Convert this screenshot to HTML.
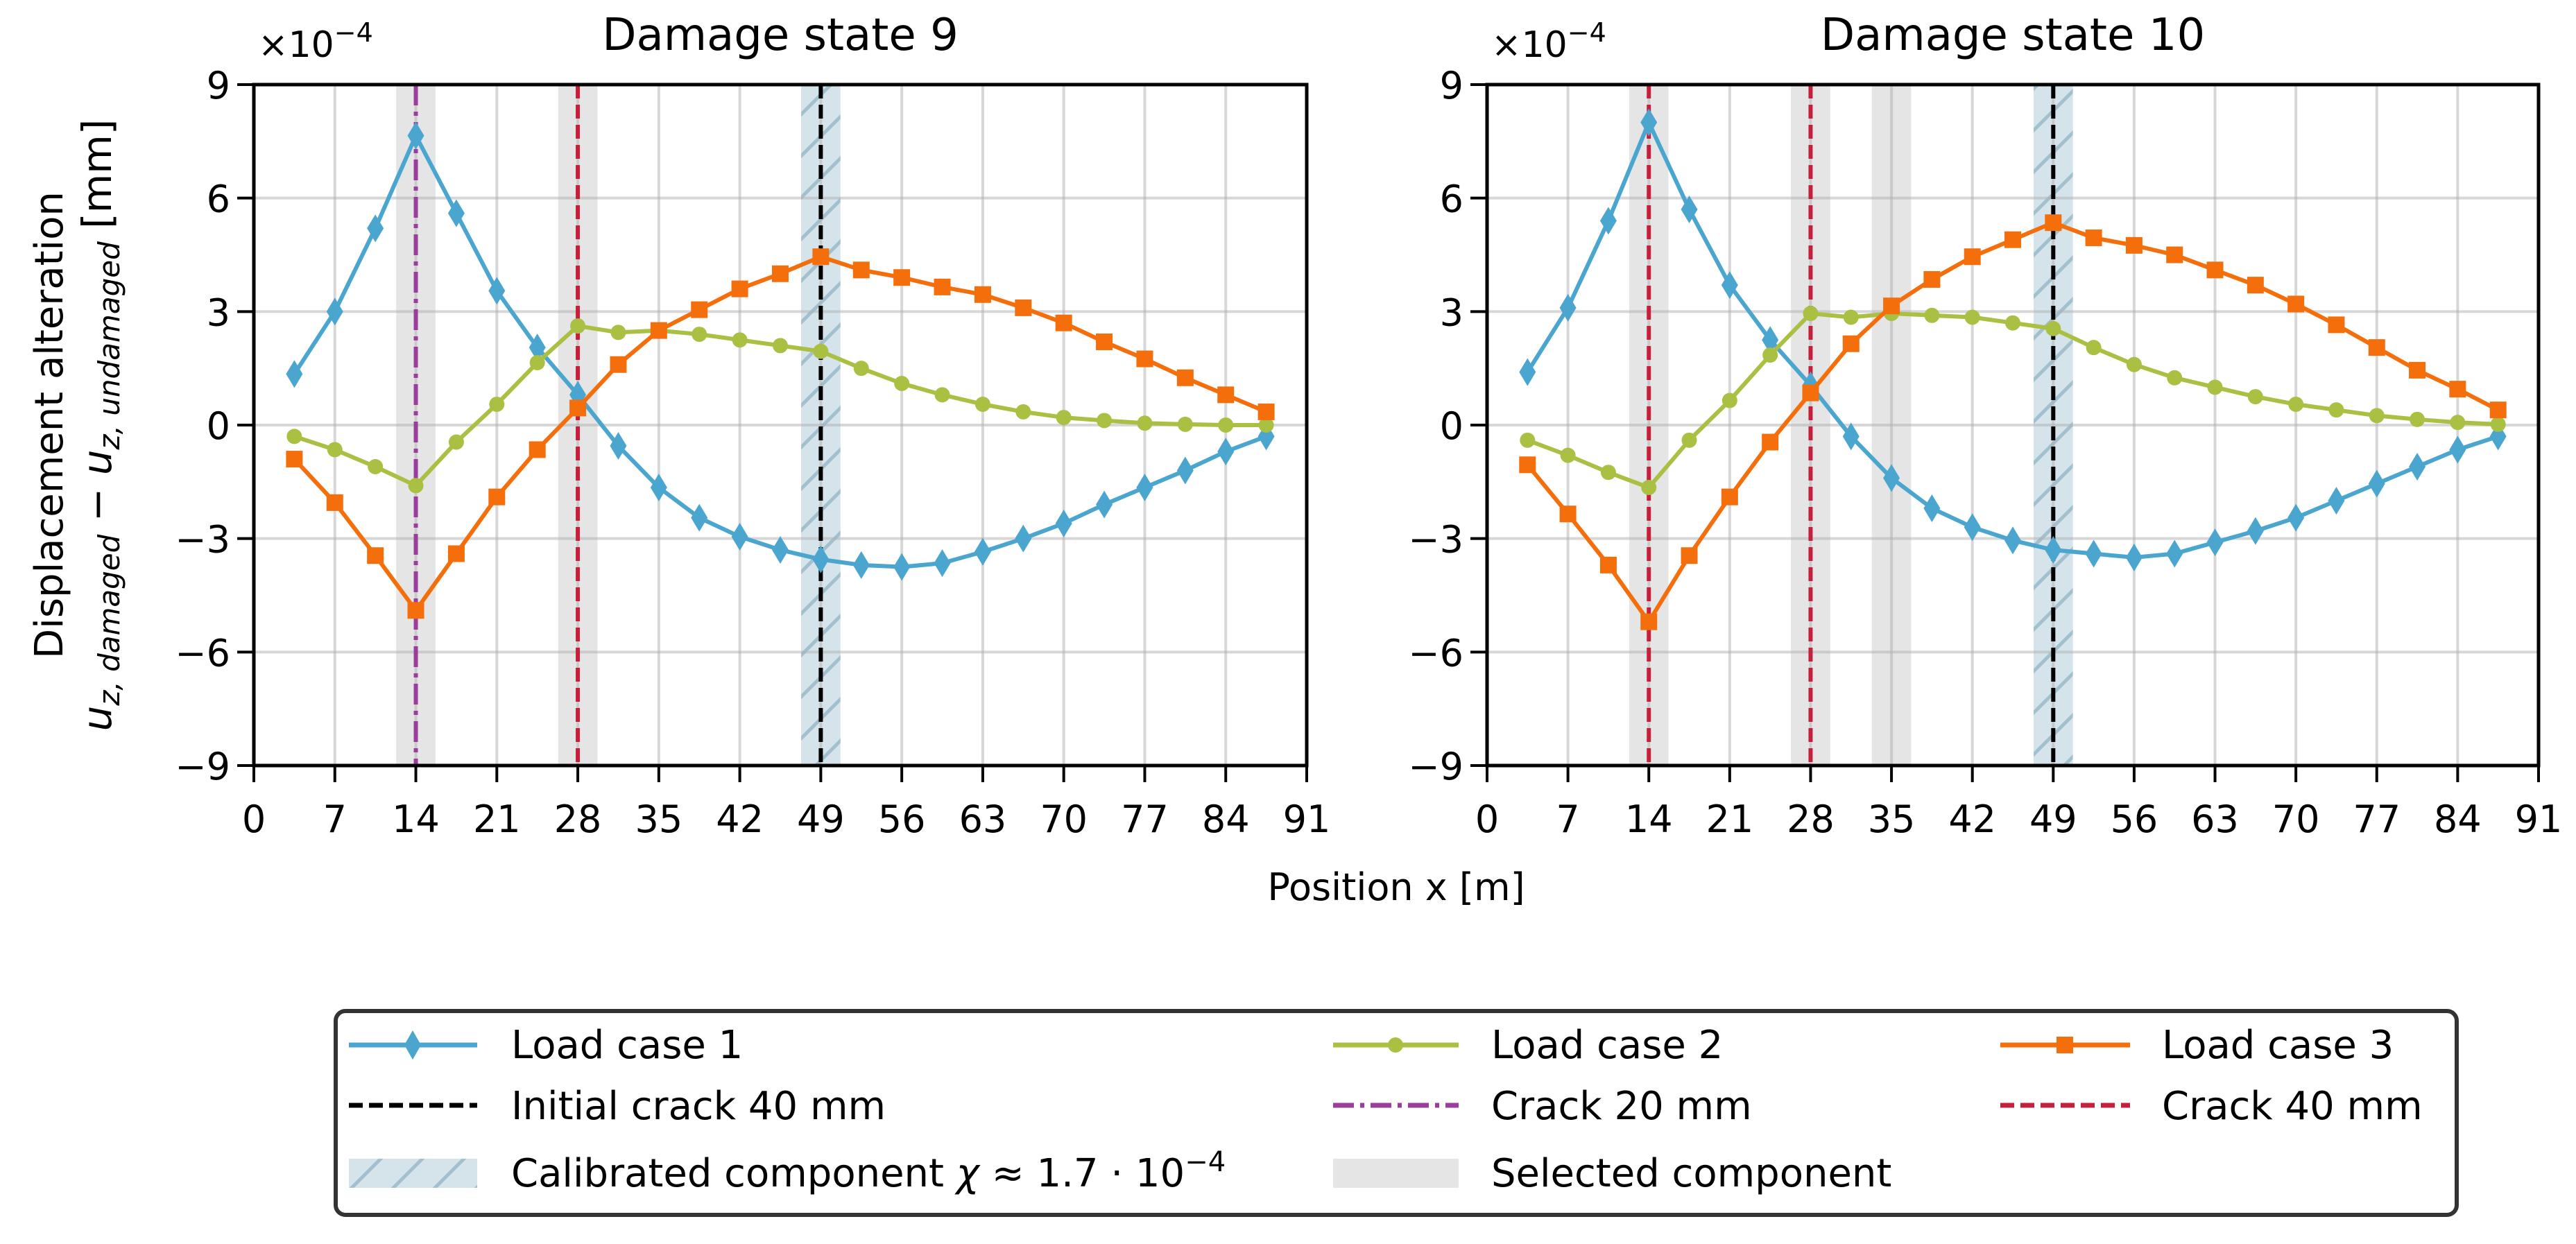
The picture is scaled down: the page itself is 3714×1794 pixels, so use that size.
<!DOCTYPE html>
<html><head><meta charset="utf-8">
<style>
html,body{margin:0;padding:0;background:#fff;}
svg{display:block;font-family:"DejaVu Sans","Liberation Sans",sans-serif;}
</style></head>
<body>
<svg id="fig" width="3714" height="1794" viewBox="0 0 3714 1794" xmlns="http://www.w3.org/2000/svg">
<defs>
<pattern id="hatch" patternUnits="userSpaceOnUse" width="60" height="60">
<rect width="60" height="60" fill="#d5e4ea"/>
<path d="M-15,75 L75,-15 M-45,45 L45,-45 M15,105 L105,15" stroke="#a3c0cf" stroke-width="5"/>
</pattern>
</defs>
<g id="root"></g>
</svg>
<script>
const xPos = [3.5,7,10.5,14,17.5,21,24.5,28,31.5,35,38.5,42,45.5,49,52.5,56,59.5,63,66.5,70,73.5,77,80.5,84,87.5];
const xTicks = [0,7,14,21,28,35,42,49,56,63,70,77,84,91];
const yTicks = [-9,-6,-3,0,3,6,9];
const yTickLabels = ["\u22129","\u22126","\u22123","0","3","6","9"];
const ds9_lc1 = [1.35,3.0,5.2,7.65,5.6,3.55,2.05,0.8,-0.55,-1.65,-2.45,-2.95,-3.3,-3.55,-3.7,-3.75,-3.65,-3.35,-3.0,-2.6,-2.1,-1.65,-1.2,-0.7,-0.3];
const ds9_lc2 = [-0.3,-0.65,-1.1,-1.6,-0.45,0.55,1.65,2.62,2.45,2.5,2.4,2.25,2.1,1.95,1.5,1.1,0.8,0.55,0.35,0.2,0.12,0.05,0.02,0.0,0.0];
const ds9_lc3 = [-0.9,-2.05,-3.45,-4.9,-3.4,-1.9,-0.65,0.45,1.6,2.5,3.05,3.6,4.0,4.45,4.1,3.9,3.65,3.45,3.1,2.7,2.2,1.75,1.25,0.8,0.35];
const ds10_lc1 = [1.4,3.1,5.4,8.0,5.7,3.7,2.25,1.05,-0.3,-1.4,-2.2,-2.7,-3.05,-3.3,-3.4,-3.5,-3.4,-3.1,-2.8,-2.45,-2.0,-1.55,-1.1,-0.65,-0.3];
const ds10_lc2 = [-0.4,-0.8,-1.25,-1.65,-0.4,0.65,1.85,2.95,2.85,2.95,2.9,2.85,2.7,2.55,2.05,1.6,1.25,1.0,0.75,0.55,0.4,0.25,0.15,0.07,0.02];
const ds10_lc3 = [-1.05,-2.35,-3.7,-5.2,-3.45,-1.9,-0.45,0.85,2.15,3.15,3.85,4.45,4.9,5.35,4.95,4.75,4.5,4.1,3.7,3.2,2.65,2.05,1.45,0.95,0.4];
const ds9_selected = [14,28];
const ds10_selected = [14,28,35];
const calibrated = [49];
const ds9_crack20 = [14];
const ds9_crack40 = [28];
const ds10_crack20 = [];
const ds10_crack40 = [14,28];
const initialCrack = [49];
const bandHalf = 1.7;

const NS="http://www.w3.org/2000/svg";
const root=document.getElementById('root');
function mk(tag,attrs,parent){const e=document.createElementNS(NS,tag);for(const k in attrs)e.setAttribute(k,attrs[k]);(parent||root).appendChild(e);return e;}
const C1="#4ba6cf",C2="#a9c043",C3="#f56e0c",RED="#c4203b",PUR="#9a3d9c";

function panel(x0,x1,title,lc1,lc2,lc3,sel,cr20,cr40,name){
  const y0=122,y1=1104;
  const g=mk('g',{});
  
  
  const sx=v=>x0+(v-0)/(91-0)*(x1-x0);
  const sy=v=>y1-(v+9)/18*(y1-y0);
  sel.forEach(v=>{const r=mk('rect',{x:sx(v-bandHalf),y:y0,width:sx(v+bandHalf)-sx(v-bandHalf),height:y1-y0,fill:'#e5e5e5'},g);
    
    });
  calibrated.forEach(v=>{const r=mk('rect',{x:sx(v-bandHalf),y:y0,width:sx(v+bandHalf)-sx(v-bandHalf),height:y1-y0,fill:'url(#hatch)'},g);
    
    });
  xTicks.forEach(v=>{const l=mk('line',{x1:sx(v),x2:sx(v),y1:y0,y2:y1,stroke:'#b0b0b0','stroke-opacity':0.5,'stroke-width':4},g);
    
    });
  yTicks.forEach(v=>{const l=mk('line',{x1:x0,x2:x1,y1:sy(v),y2:sy(v),stroke:'#b0b0b0','stroke-opacity':0.5,'stroke-width':4},g);
    
    });
  initialCrack.forEach(v=>{const l=mk('line',{x1:sx(v),x2:sx(v),y1:y0,y2:y1,stroke:'#000','stroke-width':6,'stroke-dasharray':'20 9'},g);
    
    });
  cr20.forEach(v=>{const l=mk('line',{x1:sx(v),x2:sx(v),y1:y0,y2:y1,stroke:PUR,'stroke-width':6,'stroke-dasharray':'30 9 6 9'},g);
    
    });
  cr40.forEach(v=>{const l=mk('line',{x1:sx(v),x2:sx(v),y1:y0,y2:y1,stroke:RED,'stroke-width':6,'stroke-dasharray':'20 9'},g);
    
    });
  function series(vals,col,marker,nm){
    const pts=vals.map((v,i)=>sx(xPos[i])+','+sy(v)).join(' ');
    const pl=mk('polyline',{points:pts,fill:'none',stroke:col,'stroke-width':6,'stroke-linejoin':'round'},g);
    
    
    vals.forEach((v,i)=>{const cx=sx(xPos[i]),cy=sy(v);let m;
      if(marker==='d')m=mk('polygon',{points:`${cx},${cy-20} ${cx+12},${cy} ${cx},${cy+20} ${cx-12},${cy}`,fill:col},g);
      else if(marker==='o')m=mk('circle',{cx:cx,cy:cy,r:11,fill:col},g);
      else m=mk('rect',{x:cx-12,y:cy-12,width:24,height:24,fill:col},g);
      
      });
  }
  series(lc1,C1,'d','load-case-1');
  series(lc2,C2,'o','load-case-2');
  series(lc3,C3,'s','load-case-3');
  const fr=mk('rect',{x:x0,y:y0,width:x1-x0,height:y1-y0,fill:'none',stroke:'#000','stroke-width':5},g);
  
  
  xTicks.forEach(v=>{const t=mk('line',{x1:sx(v),x2:sx(v),y1:y1,y2:y1+24,stroke:'#000','stroke-width':4},g);
    
    
    const tx=mk('text',{x:sx(v),y:y1+96,'font-size':54,'text-anchor':'middle'},g);tx.textContent=v;
    
    });
  yTicks.forEach((v,i)=>{const t=mk('line',{x1:x0-24,x2:x0,y1:sy(v),y2:sy(v),stroke:'#000','stroke-width':4},g);
    
    
    const tx=mk('text',{x:x0-34,y:sy(v)+20,'font-size':54,'text-anchor':'end'},g);tx.textContent=yTickLabels[i];
    
    });
  const off=mk('text',{x:x0+6,y:82,'font-size':52},g);
  off.innerHTML='\u00d710<tspan dy="-22" font-size="38">\u22124</tspan>';
  
  
  const ti=mk('text',{x:(x0+x1)/2,y:72,'font-size':64,'text-anchor':'middle'},g);ti.textContent=title;
  
  
}
panel(366,1884,'Damage state 9',ds9_lc1,ds9_lc2,ds9_lc3,ds9_selected,ds9_crack20,ds9_crack40,'panel-damage-state-9');
panel(2144,3660,'Damage state 10',ds10_lc1,ds10_lc2,ds10_lc3,ds10_selected,ds10_crack20,ds10_crack40,'panel-damage-state-10');
</script>
<svg style="position:absolute;left:0;top:0" width="3714" height="1794" xmlns="http://www.w3.org/2000/svg" font-family="DejaVu Sans, Liberation Sans, sans-serif">
<g>
<text transform="translate(90,613) rotate(-90)" text-anchor="middle" font-size="56">Displacement alteration</text>
<text transform="translate(160,613) rotate(-90)" text-anchor="middle" font-size="58"><tspan font-style="italic">u</tspan><tspan font-size="42" dy="12" font-style="italic">z, damaged</tspan><tspan dy="-12"> − </tspan><tspan font-style="italic">u</tspan><tspan font-size="42" dy="12" font-style="italic">z, undamaged</tspan><tspan dy="-12"> [mm]</tspan></text>
</g>
<text x="2013" y="1298" text-anchor="middle" font-size="54">Position x [m]</text>
<g>
<rect x="484" y="1458" width="3058" height="294" rx="14" fill="#fff" stroke="#333" stroke-width="6"/>
<g>
<line x1="503" x2="688" y1="1507" y2="1507" stroke="#4ba6cf" stroke-width="7"/><polygon points="595,1486 607,1507 595,1528 583,1507" fill="#4ba6cf"/>
<text x="737" y="1526" font-size="56">Load case 1</text></g>
<g>
<line x1="1922" x2="2103" y1="1507" y2="1507" stroke="#a9c043" stroke-width="7"/><circle cx="2012" cy="1507" r="11" fill="#a9c043"/>
<text x="2150" y="1526" font-size="56">Load case 2</text></g>
<g>
<line x1="2884" x2="3071" y1="1507" y2="1507" stroke="#f56e0c" stroke-width="7"/><rect x="2965" y="1495" width="24" height="24" fill="#f56e0c"/>
<text x="3117" y="1526" font-size="56">Load case 3</text></g>
<g>
<line x1="503" x2="688" y1="1594" y2="1594" stroke="#000" stroke-width="7" stroke-dasharray="20 9"/>
<text x="737" y="1614" font-size="56">Initial crack 40 mm</text></g>
<g>
<line x1="1922" x2="2103" y1="1594" y2="1594" stroke="#9a3d9c" stroke-width="7" stroke-dasharray="30 9 6 9"/>
<text x="2150" y="1614" font-size="56">Crack 20 mm</text></g>
<g>
<line x1="2884" x2="3071" y1="1594" y2="1594" stroke="#c4203b" stroke-width="7" stroke-dasharray="20 9"/>
<text x="3117" y="1614" font-size="56">Crack 40 mm</text></g>
<g>
<rect x="503" y="1671" width="185" height="42" fill="url(#hatch)"/>
<text x="737" y="1711" font-size="56">Calibrated component <tspan font-style="italic">χ</tspan> ≈ 1.7 · 10<tspan dy="-22" font-size="40">−4</tspan></text></g>
<g>
<rect x="1922" y="1671" width="181" height="42" fill="#e5e5e5"/>
<text x="2150" y="1711" font-size="56">Selected component</text></g>
</g>
</svg>
</body></html>
